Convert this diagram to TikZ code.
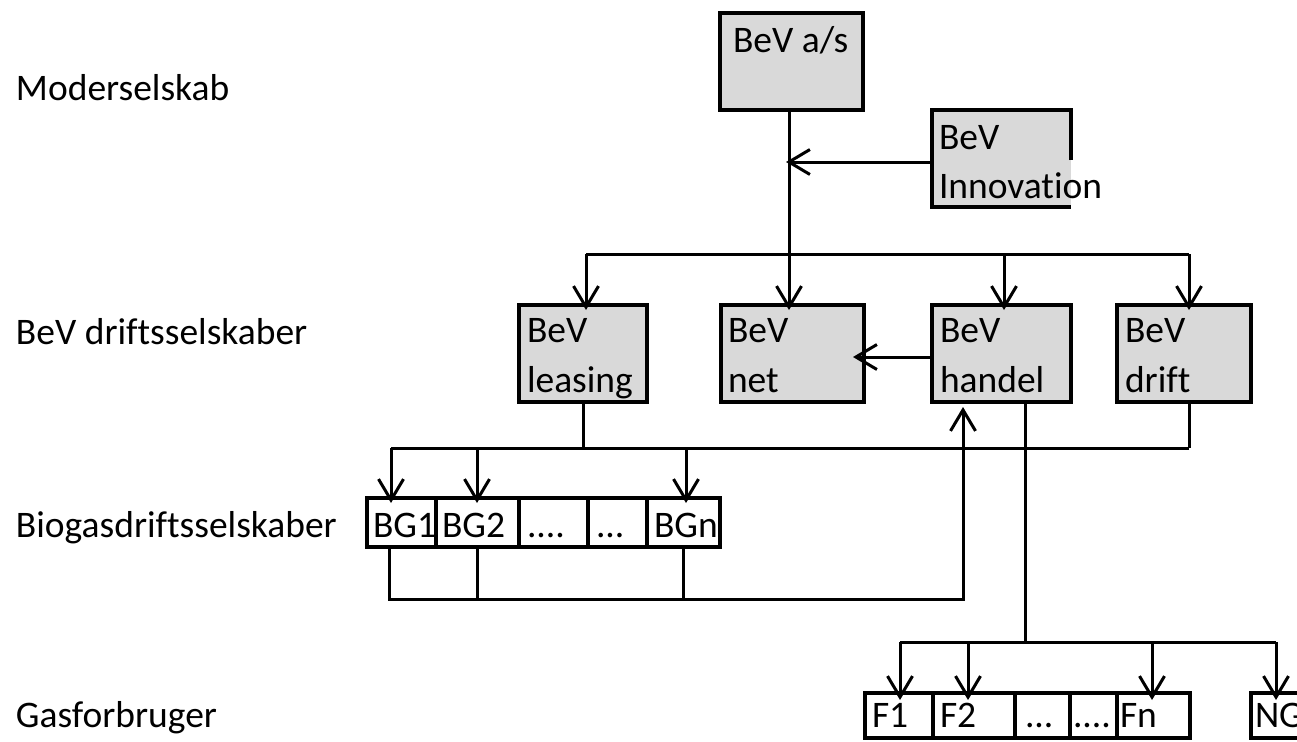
\documentclass[tikz,border=0pt]{standalone}
\usepackage{fontspec}
\setmainfont{Carlito}[Ligatures=NoCommon]
\usetikzlibrary{arrows.meta,calc}
\definecolor{boxgray}{HTML}{D9D9D9}
\begin{document}
\begin{tikzpicture}[x=1pt,y=-1pt,
  font=\fontsize{37.5}{45}\selectfont,
  company/.style={draw, line width=4pt, fill=boxgray, inner sep=0pt, outer sep=0pt, anchor=north west, minimum height=97pt},
  cell/.style={draw, line width=3.3pt, fill=white, inner sep=0pt, outer sep=0pt, anchor=north west},
  txt/.style={anchor=base west, inner sep=0pt, outer sep=0pt},
  conn/.style={line width=3pt},
  arr/.style={line width=3pt, -{Straight Barb[length=21pt,width=25pt]}, shorten >=-5pt}
]
\clip (0,0) rectangle (1297,741);
\useasboundingbox (0,0) rectangle (1297,741);

% left labels
\node[txt] (lab1) at (16,101) {Moderselskab};
\node[txt] (lab2) at (16,344) {BeV driftsselskaber};
\node[txt] (lab3) at (16,537) {Biogasdriftsselskaber};
\node[txt] (lab4) at (16,727) {Gasforbruger};

% mother company
\node[company, minimum width=143pt] (ma) at (720,13) {};
\node[txt] (mat) at (733,53) {BeV a/s};

% innovation (right border partly hidden by text)
\node[company, draw=none, minimum width=139pt] (inn) at (932,110) {};
\draw[line width=4pt] ([yshift=-50pt]inn.north east) -- (inn.north east) -- (inn.north west) -- (inn.south west) -- (inn.south east);
\node[txt] (innt1) at (939,149) {BeV};
\node[txt] (innt2) at (939,198) {Innovation};

% operating companies
\node[company, minimum width=128pt] (lea) at (519,305) {};
\node[company, minimum width=143pt] (net) at (721,305) {};
\node[company, minimum width=139pt] (han) at (932,305) {};
\node[company, minimum width=134pt] (dri) at (1117,305) {};
\node[txt] (leat1) at (527,342) {BeV};
\node[txt] (leat2) at (527,392) {leasing};
\node[txt] (nett1) at (728,342) {BeV};
\node[txt] (nett2) at (728,392) {net};
\node[txt] (hant1) at (940,342) {BeV};
\node[txt] (hant2) at (940,392) {handel};
\node[txt] (drit1) at (1125,342) {BeV};
\node[txt] (drit2) at (1125,392) {drift};

% biogas cells
\node[cell, minimum width=69pt, minimum height=49pt] (bg1) at (367,498) {};
\node[cell, minimum width=83pt, minimum height=49pt] (bg2) at (436,498) {};
\node[cell, minimum width=69pt, minimum height=49pt] (bg3) at (519,498) {};
\node[cell, minimum width=59pt, minimum height=49pt] (bg4) at (588,498) {};
\node[cell, minimum width=73pt, minimum height=49pt] (bgn) at (647,498) {};
\node[txt] (bg1t) at (373,537) {BG1};
\node[txt] (bg2t) at (442,537) {BG2};
\node[txt] (bg3t) at (527,537) {....};
\node[txt] (bg4t) at (596,537) {...};
\node[txt] (bgnt) at (654,537) {BGn};

% consumer cells
\node[cell, minimum width=68pt, minimum height=45pt] (f1) at (865,693) {};
\node[cell, minimum width=82pt, minimum height=45pt] (f2) at (933,693) {};
\node[cell, minimum width=55pt, minimum height=45pt] (f3) at (1015,693) {};
\node[cell, minimum width=47pt, minimum height=45pt] (f4) at (1070,693) {};
\node[cell, minimum width=73pt, minimum height=45pt] (fn) at (1117,693) {};
\node[cell, minimum width=90pt, minimum height=45pt] (ng) at (1251,693) {};
\node[txt] (f1t) at (872,727) {F1};
\node[txt] (f2t) at (940,727) {F2};
\node[txt] (f3t) at (1025,727) {...};
\node[txt] (f4t) at (1073,727) {....};
\node[txt] (fnt) at (1120,727) {Fn};
\node[txt] (ngt) at (1255,727) {NG};

% junction coordinates
\coordinate (m0) at (789,162);
\coordinate (b1) at (586,254);
\coordinate (b2) at (1004,254);
\coordinate (b3) at (1189,254);
\coordinate (g0) at (391,448);
\coordinate (g1) at (477,448);
\coordinate (g2) at (686,448);
\coordinate (gl) at (583,448);
\coordinate (gR) at (1189,448);
\coordinate (h0) at (389,599);
\coordinate (h1) at (477,599);
\coordinate (h2) at (683,599);
\coordinate (hR) at (963,599);
\coordinate (fT) at (1025,642);
\coordinate (f0) at (900,642);
\coordinate (fa) at (968,642);
\coordinate (fb) at (1152,642);
\coordinate (fc) at (1276,642);
\coordinate (hn) at (853,357);

% connectors
\draw[arr] (ma.south -| m0) -- (m0 |- net.north);
\draw[arr, shorten >=-3pt] (inn.west |- m0) -- (m0);
\draw[conn] (b1) -- (b3);
\draw[arr] (b1) -- (b1 |- lea.north);
\draw[arr] (b2) -- (b2 |- han.north);
\draw[arr] (b3) -- (b3 |- dri.north);
\draw[arr, shorten >=0pt] (han.west |- hn) -- (hn);

\draw[conn] (gl |- lea.south) -- (gl);
\draw[conn] (gR |- dri.south) -- (gR);
\draw[conn] (g0) -- (gR);
\draw[arr] (g0) -- (g0 |- bg1.north);
\draw[arr] (g1) -- (g1 |- bg2.north);
\draw[arr] (g2) -- (g2 |- bgn.north);

\draw[conn] (h1 |- bg2.south) -- (h1);
\draw[conn] (h2 |- bgn.south) -- (h2);
\draw[arr, shorten >=5pt] (h0 |- bg1.south) -- (h0) -- (hR) -- (hR |- han.south);

\draw[conn] (fT |- han.south) -- (fT);
\draw[conn] (f0) -- (fc);
\draw[arr, shorten >=-7pt] (f0) -- (f0 |- f1.north);
\draw[arr, shorten >=-7pt] (fa) -- (fa |- f2.north);
\draw[arr, shorten >=-7pt] (fb) -- (fb |- fn.north);
\draw[arr, shorten >=-7pt] (fc) -- (fc |- ng.north);
\end{tikzpicture}
\end{document}
